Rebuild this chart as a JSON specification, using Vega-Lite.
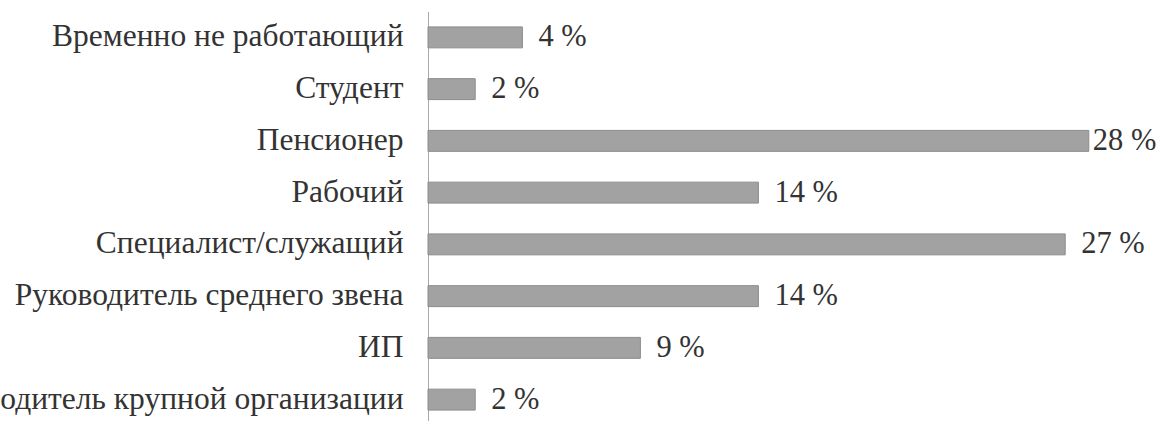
{
  "$schema": "https://vega.github.io/schema/vega-lite/v6.json",
  "autosize": "none",
  "width": 708,
  "height": 414,
  "padding": {"left": 428, "top": 11.5, "right": 29, "bottom": 0},
  "background": "white",
  "config": {"view": {"stroke": null}, "font": "Liberation Serif"},
  "data": {
    "values": [
      {"category": "Временно не работающий", "value": 4, "label": "4 %"},
      {"category": "Студент", "value": 2, "label": "2 %"},
      {"category": "Пенсионер", "value": 28, "label": "28 %"},
      {"category": "Рабочий", "value": 14, "label": "14 %"},
      {"category": "Специалист/служащий", "value": 27, "label": "27 %"},
      {"category": "Руководитель среднего звена", "value": 14, "label": "14 %"},
      {"category": "ИП", "value": 9, "label": "9 %"},
      {"category": "Руководитель крупной организации", "value": 2, "label": "2 %"}
    ]
  },
  "encoding": {
    "y": {
      "field": "category", "type": "nominal", "sort": null,
      "scale": {"paddingInner": 0.595, "paddingOuter": 0.2975},
      "axis": {
        "title": null, "ticks": false, "labelPadding": 25,
        "labelFont": "Liberation Serif", "labelFontSize": 31.5, "labelColor": "#333333",
        "domainColor": "#a8a8a8", "domainWidth": 1, "labelLimit": 0, "grid": false
      }
    },
    "x": {
      "field": "value", "type": "quantitative",
      "scale": {"domain": [0, 30], "nice": false},
      "axis": null
    }
  },
  "layer": [
    {
      "mark": {"type": "bar", "color": "#a2a2a2", "stroke": "#8c8c8c", "strokeWidth": 1}
    },
    {
      "transform": [{"filter": "datum.value < 28"}],
      "mark": {"type": "text", "align": "left", "baseline": "middle", "dx": 16, "font": "Liberation Serif", "fontSize": 30.5, "color": "#333333"},
      "encoding": {"text": {"field": "label"}}
    },
    {
      "transform": [{"filter": "datum.value >= 28"}],
      "mark": {"type": "text", "align": "left", "baseline": "middle", "dx": 4, "font": "Liberation Serif", "fontSize": 30.5, "color": "#333333"},
      "encoding": {"text": {"field": "label"}}
    }
  ]
}
